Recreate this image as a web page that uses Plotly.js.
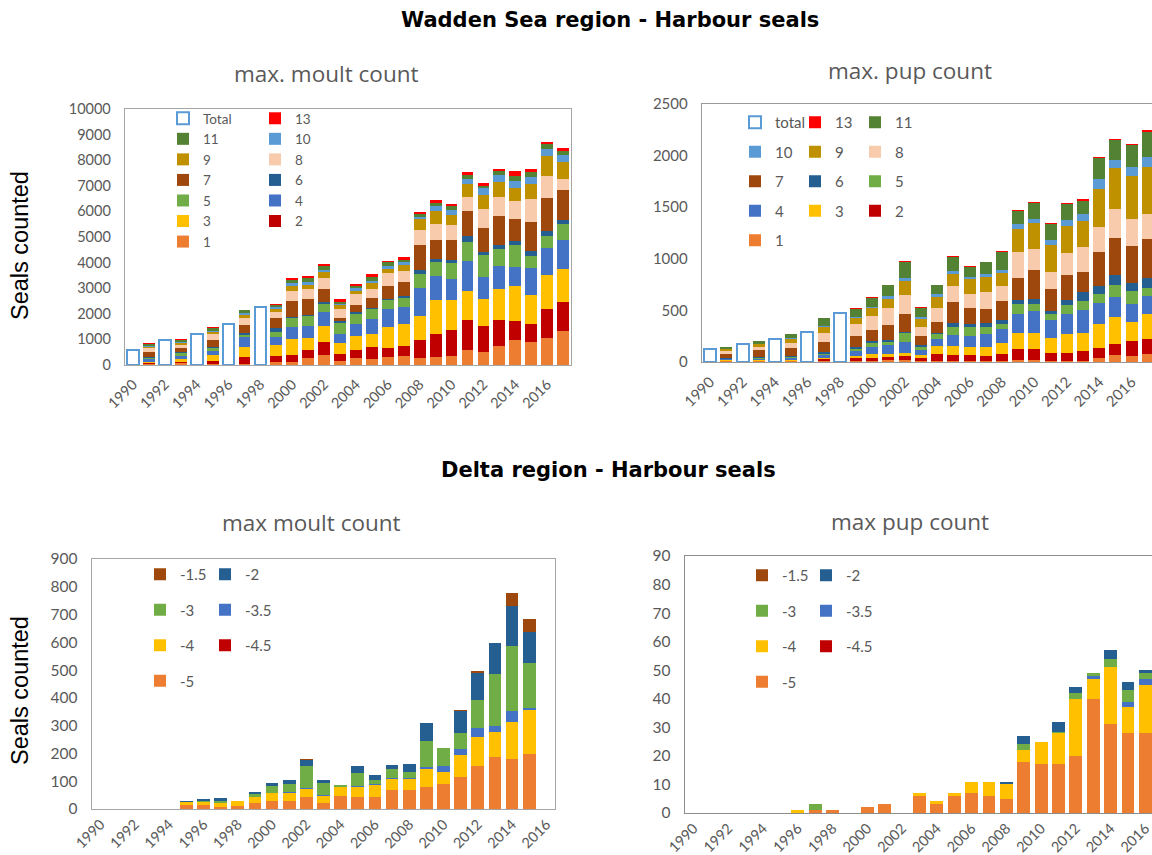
<!DOCTYPE html>
<html>
<head>
<meta charset="utf-8">
<script src="https://cdn.plot.ly/plotly-3.0.1.min.js"></script>
<style>
  html, body { margin: 0; padding: 0; overflow: hidden; background: #fff; }
  #plot { width: 1200px; height: 855px; }
</style>
</head>
<body>
<div id="plot"></div>
<script>
// ---- Wadden Sea, max. moult count ----
var moultTotalYears = [1990, 1992, 1994, 1996, 1998];
var moultTotal = [570, 980, 1210, 1590, 2260];
var moultYears = [1991, 1993, 1995, 1997, 1999, 2000, 2001, 2002, 2003, 2004, 2005, 2006,
                  2007, 2008, 2009, 2010, 2011, 2012, 2013, 2014, 2015, 2016, 2017];
var m1  = [40, 60, 30, 30, 130, 130, 260, 390, 150, 260, 250, 320, 360, 260, 320, 360, 580, 520, 740, 970, 880, 1070, 1330];
var m2  = [20, 40, 140, 280, 220, 280, 320, 490, 280, 320, 440, 350, 380, 710, 910, 1020, 1170, 1010, 1010, 750, 740, 1100, 1140];
var m3  = [60, 120, 220, 390, 430, 620, 490, 650, 440, 550, 540, 820, 880, 940, 1290, 1140, 1160, 1060, 1210, 1380, 1120, 1350, 1290];
var m4  = [100, 130, 160, 400, 300, 460, 440, 540, 330, 490, 580, 680, 640, 1090, 950, 840, 1140, 860, 900, 740, 1040, 1050, 1130];
var m5  = [60, 120, 100, 90, 200, 350, 390, 320, 440, 390, 360, 350, 350, 560, 570, 610, 740, 850, 680, 860, 460, 450, 610];
var m6  = [40, 40, 50, 60, 170, 40, 50, 70, 60, 60, 60, 70, 70, 150, 100, 130, 230, 120, 130, 150, 220, 220, 150];
var m7  = [180, 170, 270, 300, 380, 610, 610, 490, 140, 260, 380, 480, 580, 990, 760, 790, 1000, 950, 1140, 870, 1130, 1290, 1190];
var m8  = [150, 120, 250, 290, 250, 410, 400, 440, 360, 430, 370, 510, 430, 570, 600, 570, 540, 710, 760, 680, 900, 870, 440];
var m9  = [60, 60, 80, 130, 100, 200, 180, 230, 130, 150, 220, 170, 230, 420, 520, 400, 520, 580, 570, 520, 590, 780, 650];
var m10 = [30, 30, 40, 60, 80, 100, 110, 110, 60, 90, 100, 130, 90, 110, 180, 180, 190, 240, 270, 260, 280, 270, 280];
var m11 = [90, 90, 110, 100, 100, 130, 150, 120, 90, 90, 130, 130, 100, 110, 130, 170, 170, 110, 160, 190, 180, 180, 160];
var m13 = [20, 20, 30, 0, 30, 50, 70, 110, 90, 80, 130, 70, 90, 80, 110, 60, 100, 110, 100, 200, 130, 100, 100];

// ---- Wadden Sea, max. pup count ----
var pupTotalYears = [1990, 1992, 1994, 1996, 1998];
var pupTotal = [130, 178, 226, 291, 475];
var pupYears = moultYears;
var p1  = [5, 5, 5, 10, 10, 10, 15, 15, 10, 5, 10, 10, 10, 10, 15, 15, 10, 10, 10, 40, 70, 60, 80];
var p2  = [5, 5, 5, 15, 30, 30, 35, 45, 30, 70, 58, 55, 50, 65, 110, 110, 75, 80, 100, 100, 100, 140, 140];
var p3  = [5, 5, 5, 10, 20, 40, 30, 30, 30, 80, 87, 84, 85, 110, 160, 160, 150, 180, 170, 230, 270, 190, 250];
var p4  = [10, 15, 20, 30, 50, 70, 80, 100, 50, 70, 104, 103, 130, 135, 180, 210, 170, 200, 220, 200, 190, 170, 170];
var p5  = [5, 10, 15, 15, 20, 30, 30, 90, 30, 42, 84, 88, 65, 50, 100, 70, 60, 80, 95, 90, 120, 130, 80];
var p6  = [5, 5, 10, 20, 20, 20, 20, 10, 10, 17, 39, 32, 35, 40, 40, 50, 30, 50, 80, 80, 90, 80, 90];
var p7  = [40, 70, 80, 90, 100, 110, 145, 175, 90, 105, 203, 155, 140, 185, 210, 280, 215, 240, 195, 330, 360, 350, 380];
var p8  = [30, 30, 40, 90, 120, 140, 170, 185, 90, 130, 152, 136, 160, 140, 250, 200, 165, 220, 240, 240, 280, 270, 240];
var p9  = [20, 25, 40, 60, 60, 70, 90, 135, 80, 114, 120, 139, 145, 130, 220, 250, 260, 260, 260, 370, 400, 410, 460];
var p10 = [5, 5, 10, 10, 10, 15, 20, 30, 15, 29, 26, 23, 30, 30, 50, 45, 50, 55, 60, 90, 80, 90, 100];
var p11 = [20, 25, 40, 80, 70, 90, 110, 155, 90, 84, 133, 97, 115, 170, 130, 155, 150, 160, 130, 210, 190, 210, 240];
var p13 = [0, 5, 0, 0, 10, 5, 5, 10, 5, 5, 14, 9, 7, 10, 12, 10, 12, 8, 15, 10, 10, 10, 15];

// ---- Delta, max moult count ----
var deltaMoultYears = [1995, 1996, 1997, 1998, 1999, 2000, 2001, 2002, 2003, 2004, 2005,
                       2006, 2007, 2008, 2009, 2010, 2011, 2012, 2013, 2014, 2015];
var d5  = [13, 14, 8, 12, 22, 30, 30, 44, 22, 48, 42, 45, 70, 70, 80, 90, 115, 155, 188, 180, 197];
var d45 = [0, 0, 0, 0, 0, 0, 0, 0, 0, 0, 0, 0, 0, 0, 0, 0, 0, 0, 0, 0, 0];
var d4  = [12, 12, 12, 16, 20, 27, 27, 28, 25, 32, 38, 42, 38, 38, 65, 42, 80, 105, 90, 133, 160];
var d35 = [0, 0, 0, 0, 0, 2, 3, 5, 2, 0, 3, 3, 2, 5, 8, 22, 20, 32, 20, 40, 7];
var d3  = [0, 3, 8, 0, 12, 25, 30, 78, 45, 6, 48, 16, 35, 20, 92, 65, 57, 100, 188, 233, 160];
var d2  = [3, 6, 12, 0, 6, 10, 15, 22, 12, 0, 23, 17, 13, 28, 65, 0, 82, 98, 110, 145, 113];
var d15 = [0, 0, 0, 0, 0, 0, 0, 3, 0, 0, 0, 0, 0, 0, 0, 0, 4, 6, 2, 45, 48];

// ---- Delta, max pup count ----
var deltaPupYears = [1996, 1997, 1998, 1999, 2000, 2001, 2002, 2003, 2004, 2005, 2006,
                     2007, 2008, 2009, 2010, 2011, 2012, 2013, 2014, 2015, 2016];
var q5  = [0, 1, 1, 0, 2, 3.3, 0, 6, 3, 6, 7, 6, 5, 18, 17, 17, 20, 40, 31, 28, 28];
var q45 = [0, 0, 0, 0, 0, 0, 0, 0, 0, 0, 0, 0, 0, 0, 0, 0, 0, 0, 0, 0, 0];
var q4  = [1, 0, 0, 0, 0, 0, 0, 1, 1.2, 1, 4, 5, 5, 4, 8, 11, 20, 7, 20, 9, 17];
var q35 = [0, 0, 0, 0, 0, 0, 0, 0, 0, 0, 0, 0, 0, 0, 0, 0, 0, 1, 0, 2, 2];
var q3  = [0, 2.3, 0, 0, 0, 0, 0, 0, 0, 0, 0, 0, 0, 2, 0, 0.5, 2, 1, 3, 4, 2];
var q2  = [0, 0, 0, 0, 0, 0, 0, 0, 0, 0, 0, 0, 1, 3, 0, 3.5, 2, 0, 3, 3, 1];
var q15 = [0, 0, 0, 0, 0, 0, 0, 0, 0, 0, 0, 0, 0, 0, 0, 0, 0, 0, 0, 0, 0];

var W = 1200, H = 855;
function px(x) { return x / W; }
function py(y) { return 1 - y / H; }

var colors = {
  c1: '#ED7D31', c2: '#C00000', c3: '#FFC000', c4: '#4472C4', c5: '#70AD47', c6: '#255E91',
  c7: '#9E480E', c8: '#F8CBAD', c9: '#BF9000', c10: '#5B9BD5', c11: '#548235', c13: '#FF0000'
};

var data = [];
// later traces sit higher in the stack and higher in the legend
function seg(name, x, y, color, ax, leg) {
  data.push({
    type: 'bar', name: name, x: x, y: y,
    xaxis: 'x' + ax, yaxis: 'y' + ax,
    marker: {color: color, line: {width: 0}},
    legend: leg, legendgroup: 'g' + ax + name, legendrank: 1000 - data.length
  });
}
function total(name, x, y, ax, leg) {
  data.push({
    type: 'bar', name: name, x: x, y: y,
    xaxis: 'x' + ax, yaxis: 'y' + ax,
    marker: {color: '#ffffff', line: {color: '#5B9BD5', width: 2}},
    legend: leg, legendgroup: 'g' + ax + name, legendrank: 1000 - data.length
  });
}

// top left: col1 = Total,11,9,7,5,3,1  col2 = 13,10,8,6,4,2
seg('1', moultYears, m1, colors.c1, '', 'legend');
seg('2', moultYears, m2, colors.c2, '', 'legend2');
seg('3', moultYears, m3, colors.c3, '', 'legend');
seg('4', moultYears, m4, colors.c4, '', 'legend2');
seg('5', moultYears, m5, colors.c5, '', 'legend');
seg('6', moultYears, m6, colors.c6, '', 'legend2');
seg('7', moultYears, m7, colors.c7, '', 'legend');
seg('8', moultYears, m8, colors.c8, '', 'legend2');
seg('9', moultYears, m9, colors.c9, '', 'legend');
seg('10', moultYears, m10, colors.c10, '', 'legend2');
seg('11', moultYears, m11, colors.c11, '', 'legend');
seg('13', moultYears, m13, colors.c13, '', 'legend2');
total('Total', moultTotalYears, moultTotal, '', 'legend');

// top right: col1 = total,10,7,4,1  col2 = 13,9,6,3  col3 = 11,8,5,2
seg('1', pupYears, p1, colors.c1, '2', 'legend3');
seg('2', pupYears, p2, colors.c2, '2', 'legend5');
seg('3', pupYears, p3, colors.c3, '2', 'legend4');
seg('4', pupYears, p4, colors.c4, '2', 'legend3');
seg('5', pupYears, p5, colors.c5, '2', 'legend5');
seg('6', pupYears, p6, colors.c6, '2', 'legend4');
seg('7', pupYears, p7, colors.c7, '2', 'legend3');
seg('8', pupYears, p8, colors.c8, '2', 'legend5');
seg('9', pupYears, p9, colors.c9, '2', 'legend4');
seg('10', pupYears, p10, colors.c10, '2', 'legend3');
seg('11', pupYears, p11, colors.c11, '2', 'legend5');
seg('13', pupYears, p13, colors.c13, '2', 'legend4');
total('total', pupTotalYears, pupTotal, '2', 'legend3');

// bottom left: col1 = -1.5,-3,-4,-5  col2 = -2,-3.5,-4.5
seg('-5', deltaMoultYears, d5, colors.c1, '3', 'legend6');
seg('-4.5', deltaMoultYears, d45, colors.c2, '3', 'legend7');
seg('-4', deltaMoultYears, d4, colors.c3, '3', 'legend6');
seg('-3.5', deltaMoultYears, d35, colors.c4, '3', 'legend7');
seg('-3', deltaMoultYears, d3, colors.c5, '3', 'legend6');
seg('-2', deltaMoultYears, d2, colors.c6, '3', 'legend7');
seg('-1.5', deltaMoultYears, d15, colors.c7, '3', 'legend6');

// bottom right
seg('-5', deltaPupYears, q5, colors.c1, '4', 'legend8');
seg('-4.5', deltaPupYears, q45, colors.c2, '4', 'legend9');
seg('-4', deltaPupYears, q4, colors.c3, '4', 'legend8');
seg('-3.5', deltaPupYears, q35, colors.c4, '4', 'legend9');
seg('-3', deltaPupYears, q3, colors.c5, '4', 'legend8');
seg('-2', deltaPupYears, q2, colors.c6, '4', 'legend9');
seg('-1.5', deltaPupYears, q15, colors.c7, '4', 'legend8');

function tickFont(size) {
  return {family: 'Lato, "Open Sans", sans-serif', size: size, color: '#595959'};
}
function xAxis(d, anchor, r, fs, lc, so) {
  return {
    domain: d, anchor: anchor, range: r, tick0: 1990, dtick: 2, tickangle: -45,
    showline: true, mirror: true, linecolor: lc, linewidth: 1.3,
    showgrid: false, zeroline: false, ticks: '', tickfont: tickFont(fs),
    ticklabelstandoff: so, fixedrange: true
  };
}
function yAxis(d, anchor, r, dt, fs, lc) {
  return {
    domain: d, anchor: anchor, range: r, dtick: dt, tickformat: 'd',
    showline: true, mirror: true, linecolor: lc, linewidth: 1.3,
    showgrid: false, zeroline: false, ticks: '', tickfont: tickFont(fs),
    ticklabelstandoff: 10, fixedrange: true
  };
}
function leg(x, y, gap, size) {
  return {
    x: px(x - 20), y: py(y - 16), xanchor: 'left', yanchor: 'top',
    traceorder: 'grouped', tracegroupgap: gap, bgcolor: 'rgba(0,0,0,0)',
    font: {family: 'Lato, "Open Sans", sans-serif', size: size, color: '#595959'}
  };
}

var subFont = {family: '"Open Sans", Lato, sans-serif', size: 22.5, color: '#595959'};
var headFont = {family: '"DejaVu Sans", Verdana, sans-serif', size: 21, color: '#000', weight: 'bold'};
var yFont = {family: '"Liberation Sans", Arial, sans-serif', size: 23.5, color: '#000'};
function note(text, x, y, font, angle) {
  return {text: text, x: px(x), y: py(y), xref: 'paper', yref: 'paper',
          xanchor: 'center', yanchor: 'middle', showarrow: false, font: font, textangle: angle || 0};
}

var layout = {
  width: W, height: H,
  margin: {l: 0, r: 0, t: 0, b: 0},
  paper_bgcolor: '#fff', plot_bgcolor: '#fff',
  barmode: 'stack', bargap: 0.26,
  showlegend: true,
  xaxis: xAxis([px(125), px(571)], 'y', [1989.5, 2017.5], 14.5, '#a6a6a6', 4),
  yaxis: yAxis([py(365), py(109)], 'x', [0, 10000], 1000, 14.5, '#a6a6a6'),
  xaxis2: xAxis([px(702), px(1156)], 'y2', [1989.5, 2017.5], 15, '#999999', 4),
  yaxis2: yAxis([py(362), py(104)], 'x2', [0, 2500], 500, 15, '#999999'),
  xaxis3: xAxis([px(92), px(555)], 'y3', [1989.5, 2016.5], 14.5, '#a6a6a6', 0),
  yaxis3: yAxis([py(809), py(559)], 'x3', [0, 900], 100, 15.5, '#a6a6a6'),
  xaxis4: xAxis([px(685), px(1154)], 'y4', [1989.5, 2016.5], 14.5, '#8c8c8c', 0),
  yaxis4: yAxis([py(813), py(556)], 'x4', [0, 90], 10, 15.5, '#8c8c8c'),
  legend: leg(183, 119, 0, 13.5),
  legend2: leg(275, 119, 0, 13.5),
  legend3: leg(755, 122, 7, 15),
  legend4: leg(815, 122, 7, 15),
  legend5: leg(875, 122, 7, 15),
  legend6: leg(160, 574, 13, 15),
  legend7: leg(225, 574, 13, 15),
  legend8: leg(762, 575, 13, 15),
  legend9: leg(826, 575, 13, 15),
  annotations: [
    note('Wadden Sea region - Harbour seals', 610, 20, headFont),
    note('Delta region - Harbour seals', 609, 470, headFont),
    note('max. moult count', 326, 73, subFont),
    note('max. pup count', 910, 71, subFont),
    note('max moult count', 311, 522, subFont),
    note('max pup count', 910, 521, subFont),
    note('Seals counted', 20, 246, yFont, -90),
    note('Seals counted', 20, 691, yFont, -90)
  ]
};

Plotly.newPlot('plot', data, layout, {displayModeBar: false, staticPlot: true});
</script>
</body>
</html>
